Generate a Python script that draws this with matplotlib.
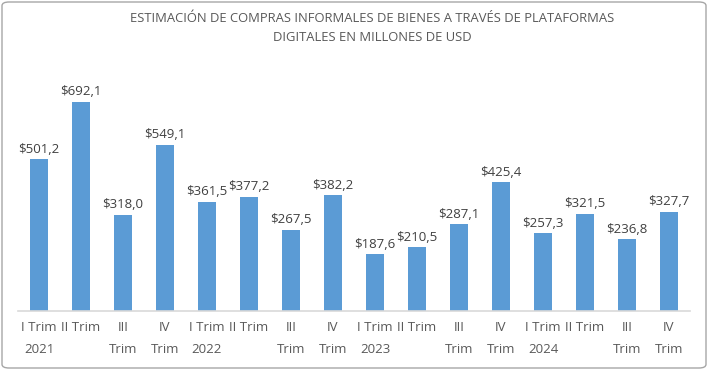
import matplotlib
matplotlib.use("Agg")
import matplotlib.pyplot as plt
from matplotlib.patches import FancyBboxPatch

categories = ["I Trim\n2021", "II Trim", "III\nTrim", "IV\nTrim",
              "I Trim\n2022", "II Trim", "III\nTrim", "IV\nTrim",
              "I Trim\n2023", "II Trim", "III\nTrim", "IV\nTrim",
              "I Trim\n2024", "II Trim", "III\nTrim", "IV\nTrim"]
values = [501.2, 692.1, 318.0, 549.1,
          361.5, 377.2, 267.5, 382.2,
          187.6, 210.5, 287.1, 425.4,
          257.3, 321.5, 236.8, 327.7]
title = "ESTIMACIÓN DE COMPRAS INFORMALES DE BIENES A TRAVÉS DE PLATAFORMAS\nDIGITALES EN MILLONES DE USD"

plt.rcParams['font.family'] = ['Open Sans', 'DejaVu Sans']

fig = plt.figure(figsize=(7.08, 3.70), dpi=100)
ax = fig.add_axes([18/708, 59/370, 672/708, (311-69)/370])

x = list(range(len(values)))
bars = ax.bar(x, values, width=0.41, color="#5B9BD5", zorder=2)
ax.set_xlim(-0.5, len(values) - 0.5)
ax.set_ylim(0, 800)

for xi, v in zip(x, values):
    ax.text(xi, v + 12, "$" + f"{v:.1f}".replace(".", ","), ha="center", va="bottom",
            fontsize=9.5, color="#404040")

ax.set_xticks(x)
ax.set_xticklabels(categories, fontsize=9.5, color="#595959", linespacing=1.95)
ax.tick_params(axis="x", length=0, pad=7)
ax.set_yticks([])
for s in ["top", "right", "left"]:
    ax.spines[s].set_visible(False)
ax.spines["bottom"].set_color("#D9D9D9")
ax.spines["bottom"].set_linewidth(1.2)

fig.text(372/708, 1 - 28/370, title, ha="center", va="center", fontsize=9.4,
         color="#595959", linespacing=1.65)

border = FancyBboxPatch((2/708, 2/370), 704/708, 366/370, boxstyle="round,pad=0,rounding_size=0.01",
                        transform=fig.transFigure, fill=False, edgecolor="#A6A6A6", linewidth=1.0)
fig.patches.append(border)

fig.savefig("out.png", dpi=100)
